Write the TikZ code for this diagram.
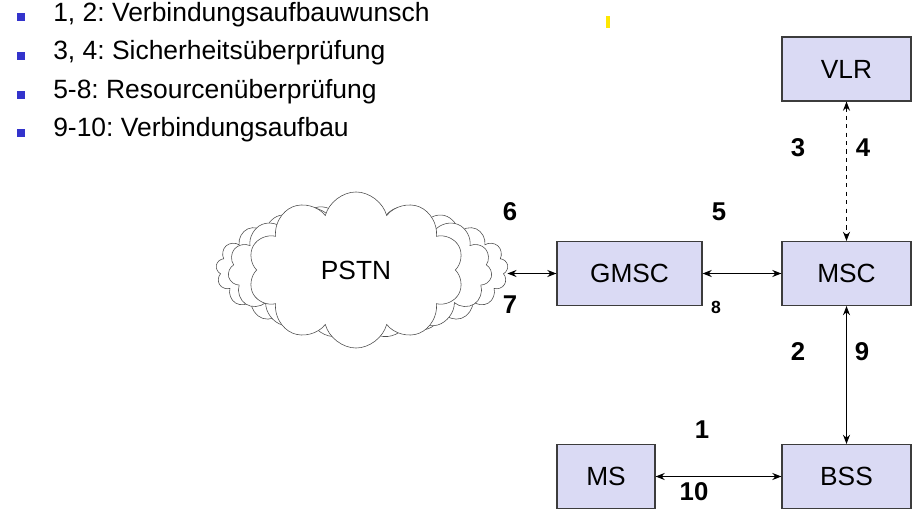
\documentclass[tikz,border=0pt]{standalone}
\usepackage{fontspec}
\setmainfont{Liberation Sans}
\frenchspacing
\usetikzlibrary{shapes,arrows,arrows.meta}
\definecolor{boxfill}{RGB}{218,218,244}
\definecolor{boxline}{RGB}{60,60,60}
\definecolor{bulletblue}{RGB}{51,51,204}
\tikzstyle{netbox} = [rectangle, minimum height=1.6cm, text centered, draw=boxline, thick, fill=boxfill, font=\fontsize{18.7}{21}\selectfont]
\tikzstyle{bullet} = [rectangle, minimum size=0.18cm, inner sep=0pt, fill=bulletblue]
\tikzstyle{item} = [anchor=west, inner sep=0pt, font=\fontsize{18.8}{21}\selectfont]
\tikzstyle{num} = [font=\fontsize{18.3}{21}\selectfont\bfseries]
\tikzstyle{arrow} = [{Stealth[length=6.5pt,width=5pt]}-{Stealth[length=6.5pt,width=5pt]}, line width=0.75pt]
\tikzstyle{puff} = [cloud, draw=black!70, fill=white, cloud ignores aspect]

\begin{document}
\begin{tikzpicture}[x=0.025cm, y=-0.025cm]
        \useasboundingbox (0,0) rectangle (922,530);

        % list
        \node (b1) [bullet] at (21,17) {};
        \node (b2) [bullet] at (21,56) {};
        \node (b3) [bullet] at (21,95) {};
        \node (b4) [bullet] at (21,133) {};
        \node (t1) [item] at (53,15) {1, 2: Verbindungsaufbauwunsch};
        \node (t2) [item] at (53,53) {3, 4: Sicherheitsüberprüfung};
        \node (t3) [item] at (53,92) {5-8: Resourcenüberprüfung};
        \node (t4) [item] at (53,130) {9-10: Verbindungsaufbau};
        \fill[yellow!90!orange] (606,16) rectangle (610,28);

        % network
        \node (pstnback) [puff, cloud puffs=21, minimum width=7.3cm, minimum height=3.3cm] at (362,270) {};
        \node (pstnmid) [puff, cloud puffs=15, minimum width=6.6cm, minimum height=3.4cm] at (360,270) {};
        \node (pstn) [puff, cloud puffs=10, minimum width=5.4cm, minimum height=3.9cm] at (356,270) {\fontsize{18.7}{21}\selectfont PSTN};
        \node (vlr) [netbox, minimum width=3.225cm] at (846.5,69) {VLR};
        \node (msc) [netbox, minimum width=3.225cm] at (846.5,273.5) {MSC};
        \node (gmsc) [netbox, minimum width=3.625cm] at (629.5,273.5) {GMSC};
        \node (bss) [netbox, minimum width=3.225cm] at (846.5,476.5) {BSS};
        \node (ms) [netbox, minimum width=2.45cm] at (606,476.5) {MS};

        \draw [arrow, dashed] (vlr) -- (msc);
        \draw [arrow] (msc) -- (bss);
        \draw [arrow] (gmsc) -- (msc);
        \draw [arrow] (ms) -- (bss);
        \draw [arrow] (gmsc.west) -- (gmsc.west -| pstnback.east);

        % steps
        \node (n1) [num] at (702,430) {1};
        \node (n2) [num] at (798,352) {2};
        \node (n3) [num] at (798,148) {3};
        \node (n4) [num] at (863,148) {4};
        \node (n5) [num] at (719,212) {5};
        \node (n6) [num] at (510,212) {6};
        \node (n7) [num] at (510,305) {7};
        \node (n8) [num, font=\fontsize{12.5}{14}\selectfont\bfseries] at (716,307) {8};
        \node (n9) [num] at (862,352) {9};
        \node (n10) [num] at (694,492) {10};
    \end{tikzpicture}
\end{document}
